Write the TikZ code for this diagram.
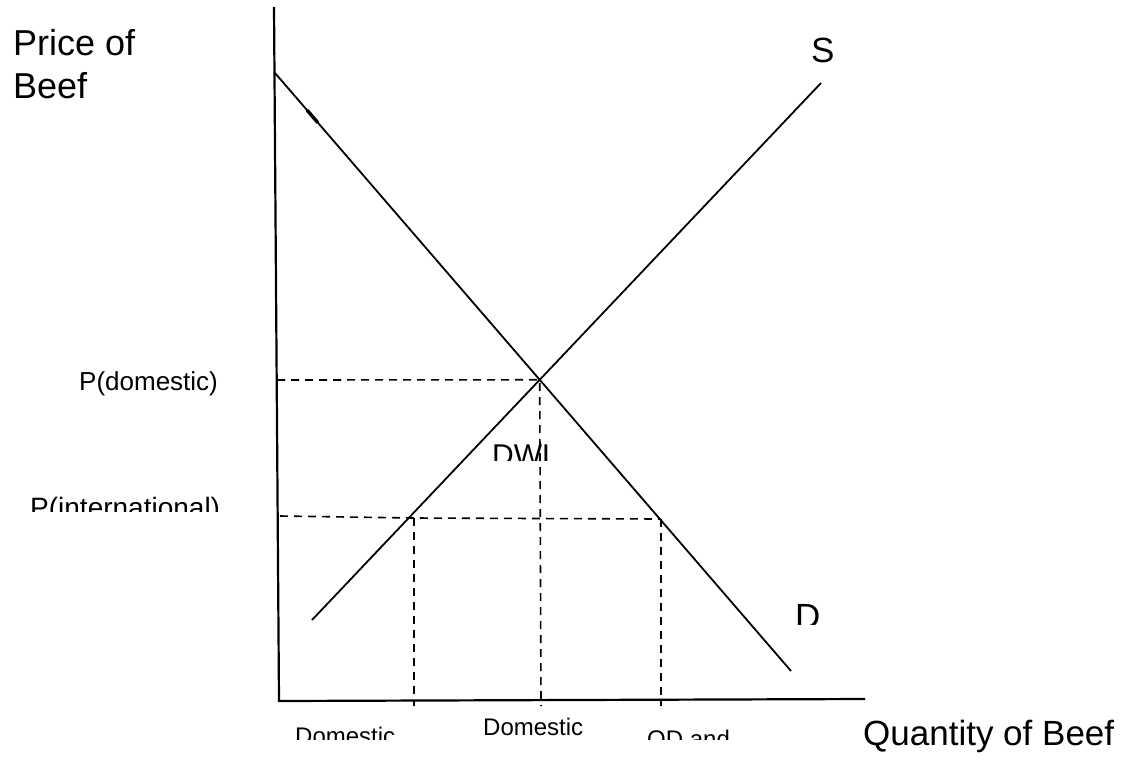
\documentclass[tikz,border=0pt]{standalone}
\usepackage{fontspec}
\setmainfont{Liberation Sans}
\usetikzlibrary{positioning, calc}
\tikzset{
  axis/.style={line width=2.2pt, color=black},
  curve/.style={line width=1.8pt, color=black},
  guide/.style={line width=1.6pt, dash pattern=on 8pt off 6pt},
  lbl/.style={inner sep=0pt, anchor=base west}
}
\newcommand{\fsz}[1]{\fontsize{#1}{#1}\selectfont}

\begin{document}
\begin{tikzpicture}[x=1pt, y=-1pt]
  \useasboundingbox (0,0) rectangle (1139,761);

  % Axes
  \coordinate (ytop) at (274,7);
  \coordinate (origin) at (279,701);
  \coordinate (xend) at (865,699);
  \draw[axis] (ytop) -- (origin) -- (xend);

  % Demand and supply
  \coordinate (dtop) at (275,73);
  \coordinate (dbot) at (791,671);
  \coordinate (sbot) at (312,620);
  \coordinate (stop) at (821,83);
  \draw[curve] (dtop) -- (dbot);
  \draw[curve] (sbot) -- (stop);
  \draw[line width=3.4pt] ($(dtop)!0.062!(dbot)$) -- ($(dtop)!0.083!(dbot)$);
  \coordinate (eq) at (intersection of dtop--dbot and sbot--stop);

  % Domestic price
  \coordinate (pdom) at (277,380);
  \coordinate (qdom) at (541,706);
  \draw[guide] (pdom) -- (eq) -- (qdom);

  % International price
  \coordinate (pint) at (280,516);
  \coordinate (qs) at (414,518);
  \coordinate (qd) at (661,519);
  \coordinate (qsax) at (414,706);
  \coordinate (qdax) at (661,706);
  \draw[guide] (pint) -- (qs) -- (qd);
  \draw[guide] (qs) -- (qsax);
  \draw[guide] (qd) -- (qdax);

  % Labels
  \node[inner sep=0pt, anchor=north west, align=left, font=\fontsize{36}{43}\selectfont]
    (pricelbl) at (13,29) {Price of\\Beef};
  \node[lbl, font=\fsz{35}] (slbl) at (811,62) {S};
  \node[lbl, font=\fsz{26}] (pdomlbl) at (79,390) {P(domestic)};
  \node[lbl, font=\fsz{35}] (qlbl) at (863,745) {Quantity of Beef};
  \begin{scope}
    \clip (470,430) rectangle (600,460);
    \node[lbl, font=\fsz{30}] (dwllbl) at (492,465) {DWL};
  \end{scope}
  \begin{scope}
    \clip (780,590) rectangle (840,624);
    \node[lbl, font=\fsz{35}] (dlbl) at (795,628) {D};
  \end{scope}
  \begin{scope}
    \clip (0,485) rectangle (270,511);
    \node[lbl, font=\fsz{28}] (pintlbl) at (30,517) {P(international)};
  \end{scope}
  \begin{scope}
    \clip (280,710) rectangle (760,739);
    \node[lbl, font=\fsz{24}] (qsdlbl) at (295,744) {Domestic};
    \node[lbl, font=\fsz{24}] (qdomlbl) at (483,735) {Domestic};
    \node[lbl, font=\fsz{24}] (qddlbl) at (647,747) {QD and};
  \end{scope}
\end{tikzpicture}
\end{document}
